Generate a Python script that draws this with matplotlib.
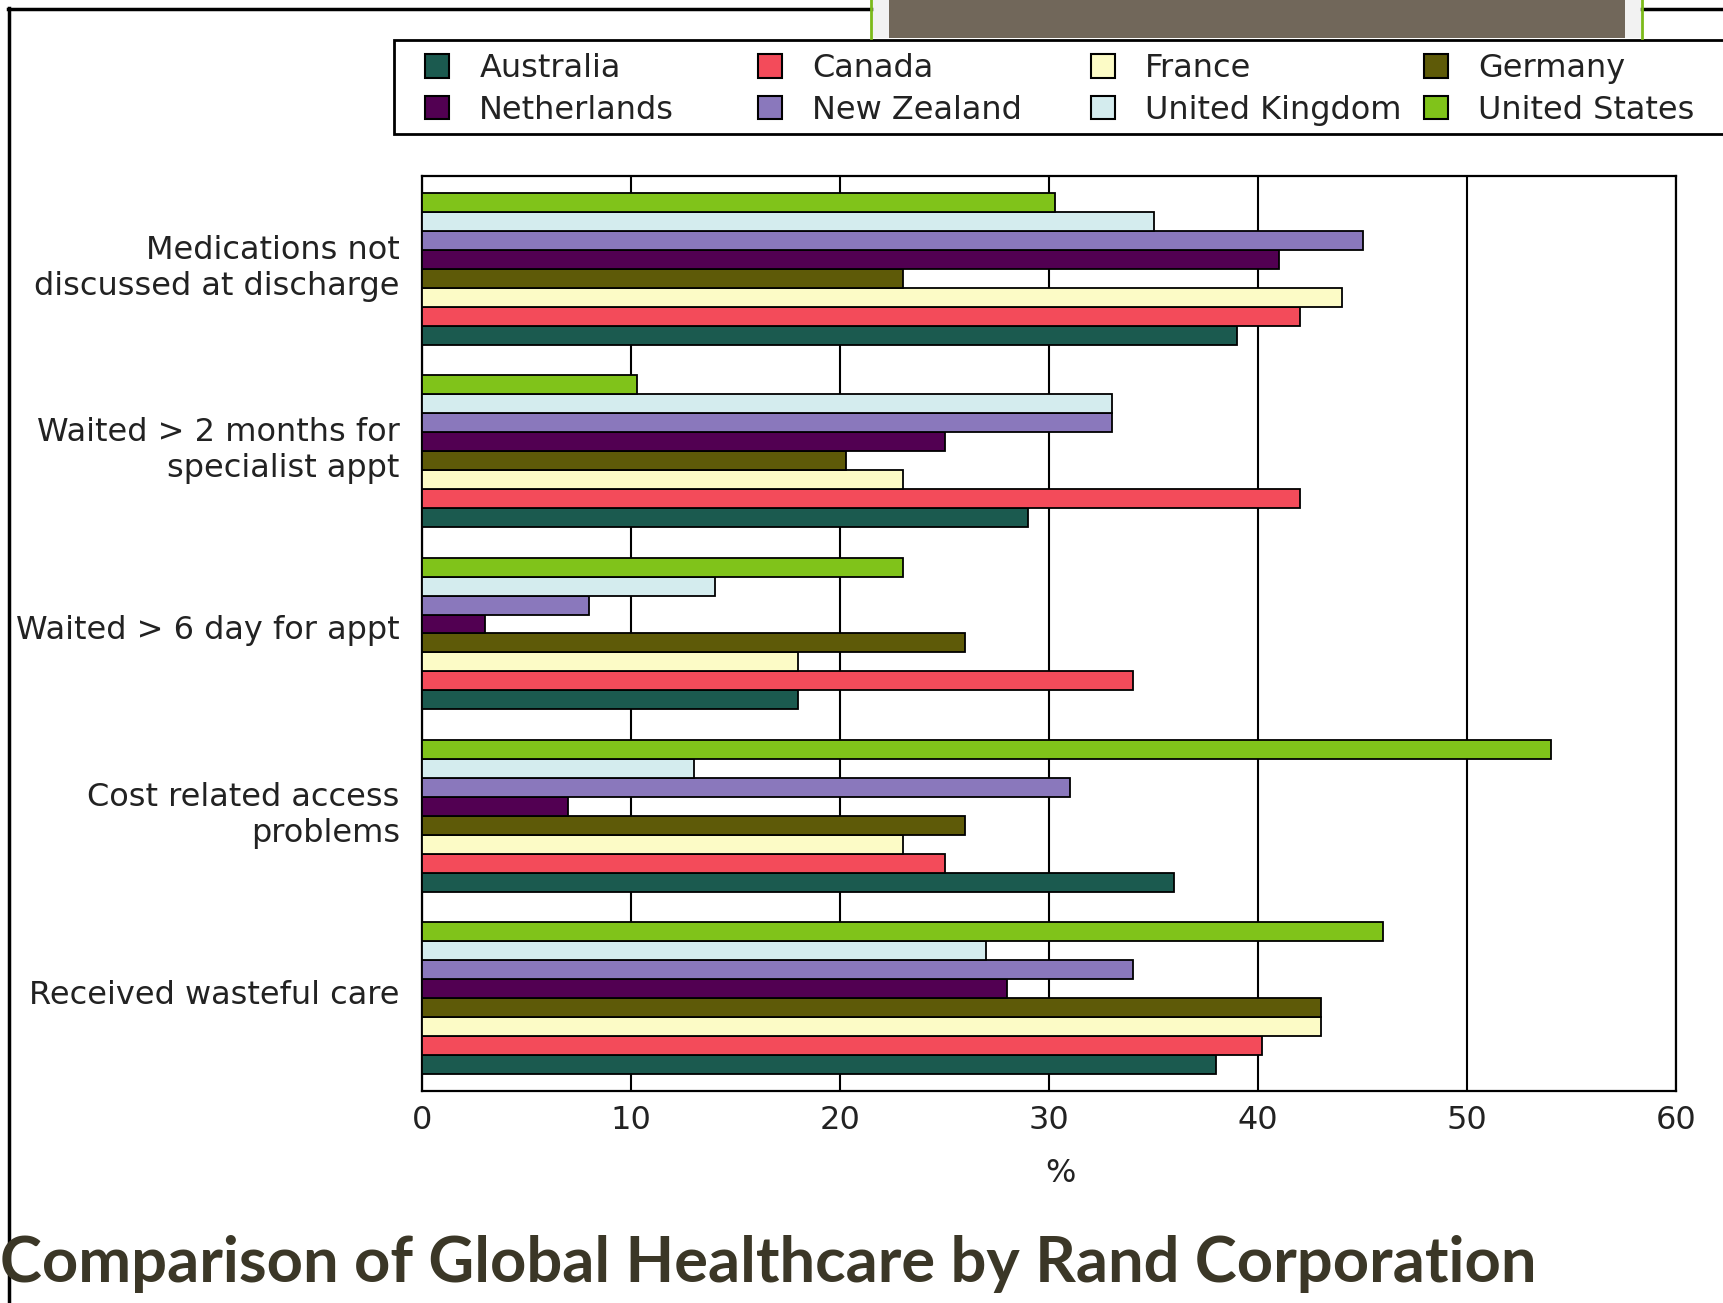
import numpy as np
import matplotlib.pyplot as plt
from matplotlib.patches import Rectangle, Patch
from matplotlib.lines import Line2D

# DATA ------------------------------------------------------------------------
categories = ["Medications not\ndiscussed at discharge",
              "Waited > 2 months for\nspecialist appt",
              "Waited > 6 day for appt",
              "Cost related access\nproblems",
              "Received wasteful care"]

countries = ["Australia", "Canada", "France", "Germany",
             "Netherlands", "New Zealand", "United Kingdom", "United States"]

australia   = [39, 29, 18, 36, 38]
canada      = [42, 42, 34, 25, 40.2]
france      = [44, 23, 18, 23, 43]
germany     = [23, 20.3, 26, 26, 43]
netherlands = [41, 25, 3, 7, 28]
new_zealand = [45, 33, 8, 31, 34]
uk          = [35, 33, 14, 13, 27]
us          = [30.3, 10.3, 23, 54, 46]

series = [australia, canada, france, germany, netherlands, new_zealand, uk, us]
colors = ["#1b5a4f", "#f34b5a", "#fcfbc6", "#5e5a08",
          "#520052", "#8a78bc", "#d4ecee", "#80c31a"]

xticks = [0, 10, 20, 30, 40, 50, 60]

# FIGURE ----------------------------------------------------------------------
W, H = 1723, 1303
fig = plt.figure(figsize=(W / 100, H / 100), dpi=100)
fig.patch.set_facecolor("white")

def fx(px):
    return px / W

def fy(py):
    return 1 - py / H

# slide decorations
fig.add_artist(Line2D([fx(8), fx(871)], [fy(9), fy(9)], color="black", lw=2.5))
fig.add_artist(Line2D([fx(1642), fx(1723)], [fy(9), fy(9)], color="black", lw=2.5))
fig.add_artist(Line2D([fx(9), fx(9)], [fy(8), fy(1303)], color="black", lw=2.5))
fig.add_artist(Rectangle((fx(871), fy(38)), fx(1642 - 871), 38 / H,
                         facecolor="#f2f2f2", edgecolor="none"))
fig.add_artist(Rectangle((fx(889), fy(38)), fx(1625 - 889), 38 / H,
                         facecolor="#71675a", edgecolor="none"))
fig.add_artist(Line2D([fx(871), fx(871)], [fy(0), fy(38)], color="#7cba1a", lw=2))
fig.add_artist(Line2D([fx(1642), fx(1642)], [fy(0), fy(38)], color="#7cba1a", lw=2))

# CHART -----------------------------------------------------------------------
ax = fig.add_axes([fx(422), fy(1091), fx(1676 - 422), (1091 - 176) / H])

n = len(series)
h = 0.104
ypos = np.arange(len(categories))
for j, (vals, col) in enumerate(zip(series, colors)):
    ax.barh(ypos + (n / 2 - 0.5 - j) * h, vals, height=h, color=col,
            edgecolor="black", linewidth=1.3, zorder=3)

ax.set_xlim(0, 60)
ax.set_ylim(4.51, -0.51)
ax.set_xticks(xticks)
ax.set_yticks(ypos - 0.035)   # labels sit a touch above the group centre
ax.set_yticklabels(categories, fontsize=23, color="#222222", ha="right",
                   linespacing=1.2)
ax.tick_params(axis="both", length=0, labelsize=23, colors="#222222")
ax.tick_params(axis="y", pad=16)
ax.tick_params(axis="x", pad=10)
ax.xaxis.grid(True, color="black", lw=1.5, zorder=0)
ax.set_axisbelow(True)
for s in ax.spines.values():
    s.set_linewidth(1.6)
ax.set_xlabel("%", fontsize=23, color="#222222")
ax.xaxis.set_label_coords(0.509, -0.073)

# LEGEND ----------------------------------------------------------------------
fig.add_artist(Rectangle((fx(394), fy(134)), fx(1800 - 394), (134 - 40) / H,
                         facecolor="white", edgecolor="black", lw=2))
handles = [Patch(facecolor=c, edgecolor="black", lw=1.5) for c in colors]
for k in range(4):
    idx = [k, k + 4]
    fig.legend([handles[i] for i in idx], [countries[i] for i in idx],
               loc="upper left", bbox_to_anchor=(fx(425 + 333 * k), fy(53)),
               frameon=False, fontsize=23, handlelength=0.75, handleheight=0.75,
               handletextpad=0.95, labelspacing=0.34,
               borderaxespad=0, borderpad=0, labelcolor="#222222")

# TITLE -----------------------------------------------------------------------
fig.text(fx(0), fy(1264), "Comparison of Global Healthcare by Rand Corporation",
         fontsize=45.5, fontweight="bold", family="Lato", color="#3b3727",
         ha="left", va="center")

fig.savefig("out.png", dpi=100)
